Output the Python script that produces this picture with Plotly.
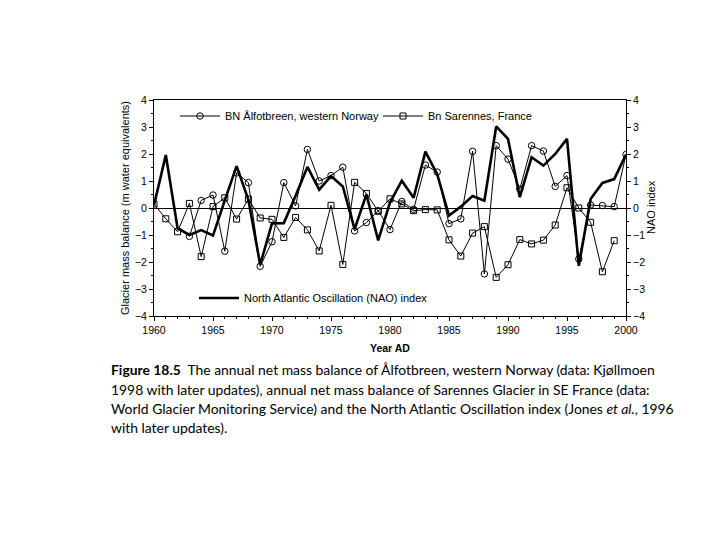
import plotly.graph_objects as go

years = list(range(1960, 2001))

alfotbreen = [None, None, None,
              -1.05, 0.28, 0.48, -1.60, 1.30, 0.94, -2.16, -1.25,
              0.94, 0.08, 2.17, 1.00, 1.20, 1.51, -0.85, -0.54, -0.10, -0.80,
              0.24, -0.05, 1.59, 1.33, -0.58, -0.40, 2.10, -2.44, 2.31, 1.81,
              0.70, 2.31, 2.11, 0.80, 1.20, -1.89, 0.11, 0.09, 0.05, 1.98]

sarennes = [0.15, -0.40, -0.88, 0.17, -1.80, 0.05, 0.38, -0.41, 0.33, -0.37, -0.42,
            -1.09, -0.35, -0.81, -1.59, 0.10, -2.09, 0.95, 0.54, -0.12, 0.34,
            0.15, -0.10, -0.06, -0.07, -1.18, -1.78, -0.93, -0.69, -2.57, -2.10,
            -1.17, -1.33, -1.19, -0.63, 0.75, 0.00, -0.53, -2.36, -1.21, None]

nao = [0.10, 1.96, -0.75, -1.00, -0.82, -1.02, 0.28, 1.55, 0.30, -2.10, -0.57,
       -0.56, 0.45, 1.52, 0.68, 1.18, 0.80, -0.78, 0.50, -1.20, 0.20,
       1.01, 0.38, 2.09, 1.25, -0.28, 0.05, 0.44, 0.27, 3.02, 2.56,
       0.40, 1.88, 1.57, 2.00, 2.56, -2.14, 0.33, 0.93, 1.07, 1.98]

x_ticks = [1960, 1965, 1970, 1975, 1980, 1985, 1990, 1995, 2000]
y_ticks = [4, 3, 2, 1, 0, -1, -2, -3, -4]
y_ticklabels = ["4", "3", "2", "1", "0", "\u22121", "\u22122", "\u22123", "\u22124"]

caption_lines = [
    "<b>Figure 18.5</b>  The annual net mass balance of Ålfotbreen, western Norway (data: Kjøllmoen",
    "1998 with later updates), annual net mass balance of Sarennes Glacier in SE France (data:",
    "World Glacier Monitoring Service) and the North Atlantic Oscillation index (Jones <i>et al.</i>, 1996",
    "with later updates).",
]

W, H = 720, 540
OFF = 8  # page offset of the rendered figure
L, R, T, B = 154 - OFF, 626 - OFF, 100 - OFF, 316 - OFF


def px(x):
    return (x - OFF - L) / (R - L)


def py(y):
    return (B - (y - OFF)) / (B - T)


FONT = "Liberation Sans"
fig = go.Figure()

fig.add_trace(go.Scatter(
    x=years, y=alfotbreen, mode="lines+markers", name="BN Ålfotbreen, western Norway",
    line=dict(color="black", width=1),
    marker=dict(symbol="circle-open", size=6.5, color="black", line=dict(width=1)),
    legend="legend", connectgaps=False))

fig.add_trace(go.Scatter(
    x=years, y=sarennes, mode="lines+markers", name="Bn Sarennes, France",
    line=dict(color="black", width=1),
    marker=dict(symbol="square-open", size=6, color="black", line=dict(width=1)),
    legend="legend2", connectgaps=False))

fig.add_trace(go.Scatter(
    x=years, y=nao, mode="lines", name="North Atlantic Oscillation (NAO) index",
    line=dict(color="black", width=2.6), yaxis="y2", legend="legend3"))

legend_common = dict(font=dict(family=FONT, size=11, color="black"),
                     bgcolor="rgba(0,0,0,0)", orientation="h", itemwidth=40,
                     xanchor="left", yanchor="middle", tracegroupgap=0)

annotations = [
    dict(text="Glacier mass balance (m water equivalents)", x=px(125), y=py(208),
         xref="paper", yref="paper", textangle=-90, showarrow=False,
         xanchor="center", yanchor="middle",
         font=dict(family=FONT, size=11, color="black")),
    dict(text="NAO index", x=px(651), y=py(207), xref="paper", yref="paper",
         textangle=-90, showarrow=False, xanchor="center", yanchor="middle",
         font=dict(family=FONT, size=11, color="black")),
    dict(text="<b>Year AD</b>", x=px(390), y=py(348), xref="paper", yref="paper",
         showarrow=False, xanchor="center", yanchor="middle",
         font=dict(family=FONT, size=10.5, color="black")),
]
cap_y = [369, 389, 408, 427]
for line, yy in zip(caption_lines, cap_y):
    annotations.append(dict(text=line, x=px(109), y=py(yy), xref="paper", yref="paper",
                            xanchor="left", yanchor="middle", showarrow=False,
                            font=dict(family="Lato", size=13.9, color="black")))

fig.update_layout(
    width=W, height=H,
    margin=dict(l=L, r=W - R, t=T, b=H - B, pad=0),
    paper_bgcolor="white", plot_bgcolor="white",
    showlegend=True,
    legend=dict(x=px(175), y=py(116), **legend_common),
    legend2=dict(x=px(378), y=py(116), **legend_common),
    legend3=dict(x=px(194), y=py(298), **legend_common),
    xaxis=dict(range=[1960, 2000], tickvals=x_ticks, showgrid=False, zeroline=False,
               showline=True, linecolor="black", linewidth=1, mirror=True,
               ticks="outside", ticklen=4, tickcolor="black",
               minor=dict(dtick=1, ticks="outside", ticklen=2, tickcolor="black"),
               tickfont=dict(family=FONT, size=10.5, color="black")),
    yaxis=dict(range=[-4, 4], tickvals=y_ticks, ticktext=y_ticklabels, showgrid=False,
               zeroline=True, zerolinecolor="black", zerolinewidth=1.2,
               showline=True, linecolor="black", linewidth=1,
               ticks="outside", ticklen=4, tickcolor="black",
               minor=dict(dtick=0.5, ticks="outside", ticklen=2, tickcolor="black"),
               tickfont=dict(family=FONT, size=10.5, color="black")),
    yaxis2=dict(range=[-4, 4], tickvals=y_ticks, ticktext=y_ticklabels, overlaying="y",
                side="right", showgrid=False, zeroline=False,
                showline=True, linecolor="black", linewidth=1,
                ticks="outside", ticklen=4, tickcolor="black",
                minor=dict(dtick=0.5, ticks="outside", ticklen=2, tickcolor="black"),
                tickfont=dict(family=FONT, size=10.5, color="black")),
    annotations=annotations,
)

fig.write_html("out.html")
